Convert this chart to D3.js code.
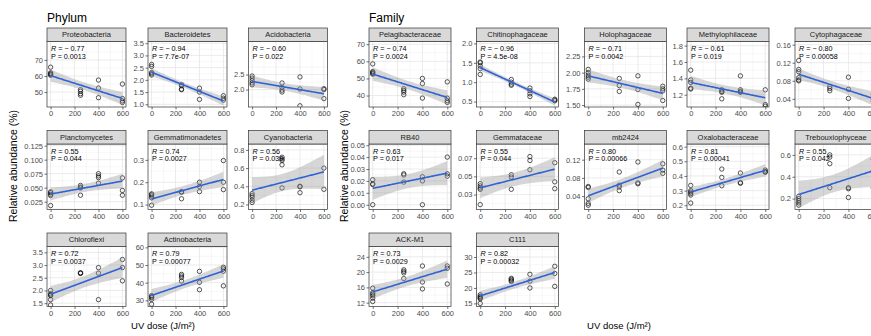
<!DOCTYPE html>
<html>
<head>
<meta charset="utf-8">
<script src="https://cdn.jsdelivr.net/npm/d3@7"></script>
<style>
  body { margin: 0; background: #fff; }
  text { font-family: "Liberation Sans", Arial, sans-serif; }
</style>
</head>
<body>
<script>
// UV doses on the x axis
const doses = [0, 250, 400, 600];

// relative abundance (%) per dose: [0, 250, 400, 600]
const proteobacteria   = [[65.5, 62, 61.5, 61, 60.5], [51.5, 50.5, 49, 48], [57.5, 52.5, 46.5], [55, 46, 44.5, 43.5]];
const bacteroidetes    = [[2.63, 2.55, 2.3, 2.25, 2.2], [1.81, 1.76, 1.62, 1.6], [1.66, 1.5, 1.2], [1.35, 1.25, 1.17]];
const acidobacteria    = [[2.45, 2.38, 2.3, 2.22, 2.16], [2.22, 2.07, 1.98, 1.92], [2.42, 2.02, 1.46], [2.03, 2.0, 1.7]];
const planctomycetes   = [[0.0425, 0.041, 0.038, 0.036, 0.018], [0.054, 0.051, 0.0495, 0.0365], [0.075, 0.071, 0.068, 0.058], [0.0675, 0.045, 0.0365]];
const gemmatimonadetes = [[0.148, 0.144, 0.138, 0.13, 0.097], [0.158, 0.155, 0.126], [0.2, 0.181, 0.158], [0.297, 0.2, 0.167]];
const cyanobacteria    = [[0.32, 0.30, 0.28, 0.247, 0.222], [0.72, 0.70, 0.684, 0.636, 0.382], [0.4, 0.395, 0.33], [0.6, 0.367]];
const chloroflexi      = [[2.0, 1.87, 1.82, 1.8, 1.64, 1.43], [2.7, 2.68, 2.67], [2.9, 2.68, 1.64], [3.22, 2.9, 2.38]];
const actinobacteria   = [[32.7, 32, 31.5, 30.5, 27.8], [44.7, 43.8, 42.9, 40.9], [46.4, 40.2, 36], [48.7, 47.8, 46.5, 38.2]];

const pelagibacteraceae = [[58.5, 54, 53.5, 53, 52.5], [44, 43, 42, 40.5], [50, 47, 38.5], [48, 38.5, 37, 36]];
const chitinophagaceae  = [[1.52, 1.5, 1.42, 1.35, 1.2], [1.07, 1.0, 0.95, 0.92], [0.85, 0.78, 0.7, 0.63], [0.56, 0.54, 0.52]];
const holophagaceae     = [[2.05, 2.0, 1.96, 1.93, 1.9], [1.91, 1.8, 1.71], [1.95, 1.74, 1.51], [1.79, 1.75, 1.72, 1.57]];
const methylophilaceae  = [[1.5, 1.38, 1.35, 1.28, 1.27], [1.26, 1.24, 1.23, 1.15], [1.43, 1.26, 1.24, 1.23], [1.26, 1.08, 1.06]];
const cytophagaceae     = [[0.125, 0.105, 0.1, 0.087, 0.082, 0.08], [0.067, 0.063, 0.058], [0.088, 0.061, 0.041], [0.05, 0.04, 0.035]];
const rb40              = [[0.021, 0.0175, 0.017, 0.0], [0.026, 0.025, 0.019], [0.0235, 0.02, 0.0], [0.04, 0.026, 0.024]];
const gemmataceae       = [[0.042, 0.0395, 0.0373, 0.0358, 0.019], [0.0518, 0.0493, 0.0358], [0.0718, 0.0675, 0.0573], [0.065, 0.044, 0.0365]];
const mb2424            = [[0.061, 0.059, 0.034, 0.024, 0.02], [0.093, 0.064, 0.06, 0.052], [0.115, 0.069, 0.067], [0.111, 0.097, 0.09]];
const oxalobacteraceae  = [[0.335, 0.3, 0.29, 0.28, 0.27, 0.215], [0.447, 0.39, 0.333], [0.42, 0.355, 0.35], [0.44, 0.43, 0.425]];
const trebouxiophyceae  = [[0.22, 0.2, 0.18, 0.16, 0.14], [0.6, 0.58, 0.52, 0.3], [0.3, 0.29, 0.21], [0.56, 0.45, 0.3]];
const ackm1             = [[15.8, 14.6, 14.2, 13.8, 13.2, 12.3], [20.6, 20.2, 19.8, 18.3], [21.6, 17.4, 15.6], [21.6, 21, 16.9]];
const c111              = [[17.8, 17.3, 17, 16.7, 16.5, 15], [23.1, 22.8, 22.4, 22.1], [24.4, 22.2, 20], [27, 24.7, 20.5]];

// Phylum facets
const phylumNames  = ["Proteobacteria", "Bacteroidetes", "Acidobacteria", "Planctomycetes", "Gemmatimonadetes", "Cyanobacteria", "Chloroflexi", "Actinobacteria"];
const phylumValues = [proteobacteria, bacteroidetes, acidobacteria, planctomycetes, gemmatimonadetes, cyanobacteria, chloroflexi, actinobacteria];
const phylumR      = ["\u2212 0.77", "\u2212 0.94", "\u2212 0.60", "0.55", "0.74", "0.56", "0.72", "0.79"];
const phylumP      = ["0.0013", "7.7e-07", "0.022", "0.044", "0.0027", "0.039", "0.0037", "0.00077"];
const phylumTicks  = [[50, 60, 70], [1.0, 1.5, 2.0, 2.5, 3.0, 3.5], [2.0, 2.5], [0.025, 0.05, 0.075, 0.1, 0.125],
                      [0.1, 0.2, 0.3], [0.2, 0.4, 0.6, 0.8], [1.5, 2.0, 2.5, 3.0, 3.5], [30, 40, 50, 60]];
const phylumDomain = [[40.7, 81.5], [0.89, 3.57], [1.42, 3.6], [0.011, 0.128],
                      [0.078, 0.371], [0.145, 0.865], [1.37, 3.73], [26.5, 60.5]];

// Family facets
const familyNames  = ["Pelagibacteraceae", "Chitinophagaceae", "Holophagaceae", "Methylophilaceae", "Cytophagaceae",
                      "RB40", "Gemmataceae", "mb2424", "Oxalobacteraceae", "Trebouxiophyceae", "ACK-M1", "C111"];
const familyValues = [pelagibacteraceae, chitinophagaceae, holophagaceae, methylophilaceae, cytophagaceae,
                      rb40, gemmataceae, mb2424, oxalobacteraceae, trebouxiophyceae, ackm1, c111];
const familyR      = ["\u2212 0.74", "\u2212 0.96", "\u2212 0.71", "\u2212 0.61", "\u2212 0.80", "0.63", "0.55", "0.80", "0.81", "0.55", "0.73", "0.82"];
const familyP      = ["0.0024", "4.5e-08", "0.0042", "0.019", "0.00058", "0.017", "0.044", "0.00066", "0.00041", "0.042", "0.0029", "0.00032"];
const familyTicks  = [[40, 50, 60, 70], [0.5, 1.0, 1.5, 2.0], [1.5, 1.75, 2.0, 2.25], [1.2, 1.4, 1.6, 1.8], [0.04, 0.08, 0.12, 0.16],
                      [0, 0.01, 0.02, 0.03, 0.04, 0.05], [0.03, 0.05, 0.07], [0.04, 0.08, 0.12], [0.2, 0.3, 0.4, 0.5, 0.6], [0.2, 0.4, 0.6],
                      [12, 16, 20, 24], [15, 20, 25, 30]];
const familyDomain = [[33.3, 71.6], [0.36, 2.05], [1.47, 2.48], [1.05, 1.85], [0.022, 0.167],
                      [-0.004, 0.051], [0.0136, 0.0856], [0.0105, 0.1545], [0.171, 0.618], [0.1, 0.7],
                      [11.0, 26.7], [14, 33.4]];

const xTicks = [0, 200, 400, 600];

// t quantiles (0.975) by degrees of freedom for the 95% band
const tq = {8: 2.306, 9: 2.262, 10: 2.228, 11: 2.201, 12: 2.179, 13: 2.160, 14: 2.145, 15: 2.131, 16: 2.120, 17: 2.110, 18: 2.101, 19: 2.093, 20: 2.086};

const W = 871, H = 336;
const svg = d3.select("body").append("svg")
  .attr("width", W).attr("height", H)
  .style("display", "block");

// layout of the facet grid
const stripTops = [28, 130.5, 233];
const stripH = 13.5;
const plotBottoms = [107, 209.5, 306.5];
const phylumLefts = [47, 148, 248.5], phylumW = 79;
const familyLefts = [369, 476.5, 584.5, 687, 795], familyW = 82;

function fit(xs, ys) {
  const n = xs.length, mx = d3.mean(xs), my = d3.mean(ys);
  let sxx = 0, sxy = 0;
  xs.forEach((x, i) => { sxx += (x - mx) ** 2; sxy += (x - mx) * (ys[i] - my); });
  const b = sxy / sxx, a = my - b * mx;
  let sse = 0;
  xs.forEach((x, i) => { sse += (ys[i] - a - b * x) ** 2; });
  const s = Math.sqrt(sse / (n - 2));
  const t = tq[n - 2] || 2.1;
  return x => {
    const yh = a + b * x;
    const se = s * Math.sqrt(1 / n + (x - mx) ** 2 / sxx);
    return {x: x, y: yh, lo: yh - t * se, hi: yh + t * se};
  };
}

function minorBreaks(b, dom) {
  const bd = b[1] - b[0];
  let bb = b.slice();
  if (dom[0] < bb[0]) bb.unshift(bb[0] - bd);
  if (dom[1] > bb[bb.length - 1]) bb.push(bb[bb.length - 1] + bd);
  const out = [];
  for (let i = 0; i < bb.length - 1; i++) out.push(bb[i] + bd / 2);
  return out.filter(v => v > dom[0] && v < dom[1]);
}

let clipId = 0;
function panel(name, vals, dom, ticks, rTxt, pTxt, left, pw, row) {
  const top = stripTops[row] + stripH, bottom = plotBottoms[row];
  const g = svg.append("g");
  const x = d3.scaleLinear().domain([-30, 630]).range([left, left + pw]);
  const y = d3.scaleLinear().domain(dom).range([bottom, top]);

  const pts = [];
  vals.forEach((arr, i) => arr.forEach(v => pts.push({x: doses[i], y: v})));

  const id = "clip" + (clipId++);
  svg.append("clipPath").attr("id", id).append("rect")
    .attr("x", left).attr("y", top).attr("width", pw).attr("height", bottom - top);

  g.append("rect").attr("x", left).attr("y", top).attr("width", pw).attr("height", bottom - top).attr("fill", "#fff");

  const grid = g.append("g").attr("clip-path", `url(#${id})`);
  // minor grid
  grid.selectAll(".ymn").data(minorBreaks(ticks, dom)).enter().append("line")
    .attr("x1", left).attr("x2", left + pw).attr("y1", d => y(d)).attr("y2", d => y(d))
    .attr("stroke", "#ebebeb").attr("stroke-width", 0.4);
  grid.selectAll(".xmn").data(minorBreaks(xTicks, [-30, 630])).enter().append("line")
    .attr("y1", top).attr("y2", bottom).attr("x1", d => x(d)).attr("x2", d => x(d))
    .attr("stroke", "#ebebeb").attr("stroke-width", 0.4);
  // major grid
  grid.selectAll(".ymj").data(ticks).enter().append("line")
    .attr("x1", left).attr("x2", left + pw).attr("y1", d => y(d)).attr("y2", d => y(d))
    .attr("stroke", "#e6e6e6").attr("stroke-width", 0.8);
  grid.selectAll(".xmj").data(xTicks).enter().append("line")
    .attr("y1", top).attr("y2", bottom).attr("x1", d => x(d)).attr("x2", d => x(d))
    .attr("stroke", "#e6e6e6").attr("stroke-width", 0.8);

  // points
  grid.selectAll("circle").data(pts).enter().append("circle")
    .attr("cx", d => x(d.x)).attr("cy", d => y(d.y)).attr("r", 2.2)
    .attr("fill", "none").attr("stroke", "#111").attr("stroke-width", 0.7);

  // regression line with 95% band
  const f = fit(pts.map(d => d.x), pts.map(d => d.y));
  const band = d3.range(0, 600.01, 7.5).map(f);
  grid.append("path").datum(band)
    .attr("d", d3.area().x(d => x(d.x)).y0(d => y(d.lo)).y1(d => y(d.hi)))
    .attr("fill", "#999999").attr("fill-opacity", 0.4);
  grid.append("path").datum(band)
    .attr("d", d3.line().x(d => x(d.x)).y(d => y(d.y)))
    .attr("fill", "none").attr("stroke", "#2f62d6").attr("stroke-width", 1.6);

  // R and P labels
  const lab = g.append("text").attr("x", left + 4).attr("y", top + 9.5)
    .attr("font-size", 7.2).attr("fill", "#000");
  lab.append("tspan").attr("font-style", "italic").text("R");
  lab.append("tspan").text(" = " + rTxt);
  g.append("text").attr("x", left + 4).attr("y", top + 17.3)
    .attr("font-size", 7.2).attr("fill", "#000").text("P = " + pTxt);

  // border
  g.append("rect").attr("x", left).attr("y", top).attr("width", pw).attr("height", bottom - top)
    .attr("fill", "none").attr("stroke", "#333").attr("stroke-width", 0.7);

  // strip
  g.append("rect").attr("x", left).attr("y", stripTops[row]).attr("width", pw).attr("height", stripH)
    .attr("fill", "#d9d9d9").attr("stroke", "#333").attr("stroke-width", 0.7);
  g.append("text").attr("x", left + pw / 2).attr("y", stripTops[row] + stripH / 2 + 2.7)
    .attr("text-anchor", "middle").attr("font-size", 7.5).attr("fill", "#1a1a1a").text(name);

  // y axis
  const dec = d3.max(ticks, t => (String(t).split(".")[1] || "").length);
  const fmt = d3.format("." + dec + "f");
  const ya = d3.axisLeft(y).tickValues(ticks).tickSize(2.5).tickPadding(1.5).tickFormat(fmt);
  const yg = g.append("g").attr("transform", `translate(${left},0)`).call(ya);
  // x axis
  const xa = d3.axisBottom(x).tickValues(xTicks).tickSize(2.5).tickPadding(1.5);
  const xg = g.append("g").attr("transform", `translate(0,${bottom})`).call(xa);
  [yg, xg].forEach(a => {
    a.select(".domain").remove();
    a.selectAll("line").attr("stroke", "#333").attr("stroke-width", 0.7);
    a.selectAll("text").attr("font-size", 7.5).attr("fill", "#4d4d4d")
      .style("font-family", "'Liberation Sans', Arial, sans-serif");
  });
}

phylumNames.forEach((n, i) => {
  const row = Math.floor(i / 3), col = i % 3;
  panel(n, phylumValues[i], phylumDomain[i], phylumTicks[i], phylumR[i], phylumP[i], phylumLefts[col], phylumW, row);
});
familyNames.forEach((n, i) => {
  const row = Math.floor(i / 5), col = i % 5;
  panel(n, familyValues[i], familyDomain[i], familyTicks[i], familyR[i], familyP[i], familyLefts[col], familyW, row);
});

// group titles
svg.append("text").attr("x", 47).attr("y", 22).attr("font-size", 12).text("Phylum");
svg.append("text").attr("x", 369).attr("y", 22).attr("font-size", 12).text("Family");

// axis titles
[[13, 166], [344, 166]].forEach(p => {
  svg.append("text").attr("transform", `translate(${p[0]},${p[1]}) rotate(-90)`)
    .attr("text-anchor", "middle").attr("dy", "0.35em").attr("font-size", 10.5)
    .text("Relative abundance (%)");
});
[[163, 329], [619, 329]].forEach(p => {
  svg.append("text").attr("x", p[0]).attr("y", p[1]).attr("text-anchor", "middle")
    .attr("font-size", 9.5).text("UV dose (J/m\u00B2)");
});
</script>
</body>
</html>
